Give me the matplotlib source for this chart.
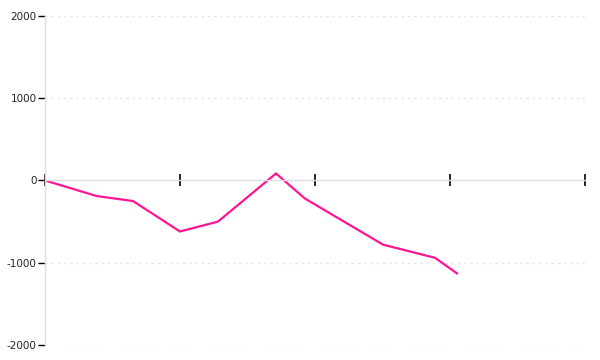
import matplotlib
matplotlib.use('Agg')
import matplotlib.pyplot as plt

# values
x_vals = [0, 0.385, 0.652, 1.0, 1.281, 1.711, 1.926, 2.504, 2.889, 3.052]
y_vals = [0, -190, -250, -620, -500, 85, -220, -780, -940, -1130]
y_ticks = [-2000, -1000, 0, 1000, 2000]
x_ticks = [0, 1, 2, 3, 4]

plt.rcParams['axes.unicode_minus'] = False
plt.rcParams['font.family'] = ['DejaVu Sans']

fig = plt.figure(figsize=(6, 3.6), dpi=100)
ax = fig.add_axes([0.075, 0.0417, 0.9, 0.9139])

ax.plot(x_vals, y_vals, color='#ff1493', lw=1.6, solid_joinstyle='miter')

ax.set_xlim(0, 4)
ax.set_ylim(-2000, 2000)
ax.set_yticks(y_ticks)
ax.set_xticks(x_ticks)
ax.set_xticklabels([])

# dotted grid, skip the zero line (the axis sits there)
for v in y_ticks:
    if v != 0:
        ax.axhline(v, color='#e3e3e3', lw=1, ls=(0, (1.5, 3)), zorder=0)

for s in ['top', 'right']:
    ax.spines[s].set_visible(False)
ax.spines['left'].set_color('#dddddd')
ax.spines['bottom'].set_position(('data', 0))
ax.spines['bottom'].set_color('#dddddd')
ax.spines['left'].set_linewidth(1)
ax.spines['bottom'].set_linewidth(1)

ax.tick_params(axis='y', direction='out', length=5, width=1, color='black',
               labelsize=7.5, labelcolor='#222222', pad=1)
ax.tick_params(axis='x', direction='inout', length=8, width=1.2, color='black')

fig.savefig('out.png', dpi=100)
